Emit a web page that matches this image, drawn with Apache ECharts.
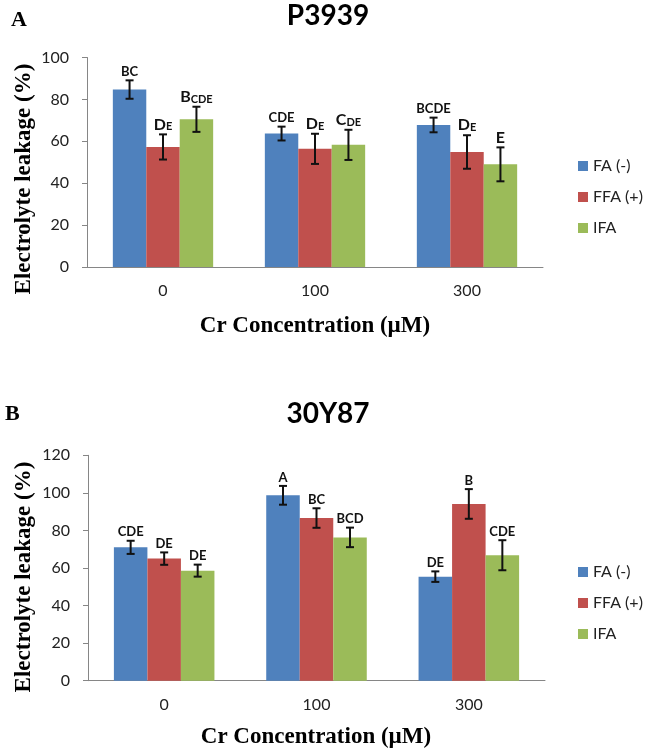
<!DOCTYPE html>
<html lang="en">
<head>
<meta charset="UTF-8">
<title>Electrolyte leakage</title>
<script src="https://cdn.jsdelivr.net/npm/echarts@6/dist/echarts.min.js"></script>
<style>
  html, body, #main { width: 100%; height: 100%; margin: 0; background: #fff; }
</style>
</head>
<body>
<div id="main"></div>
<script>
// categories and series
var categories = ['0', '100', '300'];
var seriesNames = ['FA (-)', 'FFA (+)', 'IFA'];
var colors = ['#4F81BD', '#C0504D', '#9BBB59'];

// A: P3939
var p3939FA = [84.7, 63.7, 67.8];
var p3939FFA = [57.3, 56.4, 54.9];
var p3939IFA = [70.5, 58.3, 49.0];
var p3939FAErr = [4.4, 3.3, 3.5];
var p3939FFAErr = [6.0, 7.2, 8.0];
var p3939IFAErr = [6.0, 7.2, 8.1];
var p3939FALabels = ['BC', 'CDE', 'BCDE'];
var p3939FFALabels = ['{b|D}{s|E}', '{b|D}{s|E}', '{b|D}{s|E}'];
var p3939IFALabels = ['{b|B}{s|CDE}', '{b|C}{s|DE}', '{b|E}'];

// B: 30Y87
var y87FA = [71.0, 98.7, 55.4];
var y87FFA = [65.0, 86.6, 94.1];
var y87IFA = [58.6, 76.3, 66.8];
var y87FAErr = [3.5, 5.0, 2.8];
var y87FFAErr = [3.3, 5.2, 7.9];
var y87IFAErr = [3.2, 5.2, 8.0];
var y87FALabels = ['CDE', 'A', 'DE'];
var y87FFALabels = ['DE', 'BC', 'B'];
var y87IFALabels = ['DE', 'BCD', 'CDE'];

var CAT_GAP = 0.34;
var axisColor = '#868686';
var sans = 'Lato';
var serif = '"Liberation Serif", "Times New Roman", serif';

var chart = echarts.init(document.getElementById('main'));

function barSeries(grid, idx, values) {
  return {
    type: 'bar',
    name: seriesNames[idx],
    xAxisIndex: grid,
    yAxisIndex: grid,
    data: values,
    barGap: '0%',
    barCategoryGap: (CAT_GAP * 100) + '%',
    itemStyle: { color: colors[idx] }
  };
}

// error bars + letters, drawn over the matching bar
function errSeries(grid, idx, values, errs, labels) {
  var data = values.map(function (v, i) { return [i, v, errs[i]]; });
  return {
    type: 'custom',
    xAxisIndex: grid,
    yAxisIndex: grid,
    z: 5,
    silent: true,
    encode: { x: 0, y: 1 },
    data: data,
    renderItem: function (params, api) {
      var c = api.value(0), m = api.value(1), e = api.value(2);
      var center = api.coord([c, m]);
      var catW = api.size([1, 0])[0];
      var groupW = catW * (1 - CAT_GAP);
      var barW = groupW / 3;
      var x = center[0] - groupW / 2 + barW * (idx + 0.5);
      var yTop = api.coord([c, m + e])[1];
      var yBot = api.coord([c, m - e])[1];
      var cap = 4;
      var ls = { stroke: '#111', lineWidth: 2 };
      return {
        type: 'group',
        children: [
          { type: 'line', shape: { x1: x, y1: yTop, x2: x, y2: yBot }, style: ls },
          { type: 'line', shape: { x1: x - cap, y1: yTop, x2: x + cap, y2: yTop }, style: ls },
          { type: 'line', shape: { x1: x - cap, y1: yBot, x2: x + cap, y2: yBot }, style: ls },
          {
            type: 'text', x: x, y: yTop - 2,
            style: {
              text: labels[params.dataIndex],
              font: 'bold 13px ' + sans,
              fill: '#111',
              align: 'center',
              verticalAlign: 'bottom',
              rich: {
                b: { fontSize: 16, fontWeight: 'bold', fontFamily: sans, verticalAlign: 'bottom' },
                s: { fontSize: 11, fontWeight: 'bold', fontFamily: sans, verticalAlign: 'bottom' }
              }
            }
          }
        ]
      };
    }
  };
}

function xAxis(grid) {
  return {
    type: 'category', gridIndex: grid, data: categories,
    axisLine: { lineStyle: { color: axisColor, width: 1 } },
    axisTick: { length: 5, lineStyle: { color: axisColor } },
    axisLabel: { fontFamily: sans, fontSize: 16, color: '#222', margin: 16 }
  };
}

function yAxis(grid, max) {
  return {
    type: 'value', gridIndex: grid, min: 0, max: max, interval: 20,
    axisLine: { show: true, lineStyle: { color: axisColor, width: 1 } },
    axisTick: { show: true, length: 5, lineStyle: { color: axisColor } },
    splitLine: { show: false },
    axisLabel: { fontFamily: sans, fontSize: 16, color: '#222', margin: 18 }
  };
}

function legend(top) {
  return {
    orient: 'vertical', left: 573, top: top,
    icon: 'rect', itemWidth: 10, itemHeight: 10, itemGap: 15,
    data: seriesNames,
    textStyle: { fontFamily: sans, fontSize: 16, color: '#222' }
  };
}

function axisName(text, x, y, vertical) {
  return {
    type: 'text', x: x, y: y, rotation: vertical ? Math.PI / 2 : 0,
    style: { text: text, font: 'bold 23px ' + serif, fill: '#000', align: 'center', verticalAlign: 'middle' }
  };
}

chart.setOption({
  animation: false,
  title: [
    { text: 'P3939', left: 323, textAlign: 'center', top: -3, textStyle: { fontFamily: sans, fontSize: 28, fontWeight: 'bold', color: '#000' } },
    { text: '30Y87', left: 323, textAlign: 'center', top: 395, textStyle: { fontFamily: sans, fontSize: 28, fontWeight: 'bold', color: '#000' } },
    { text: 'A', left: 6, top: 4, textStyle: { fontFamily: serif, fontSize: 22, fontWeight: 'bold', color: '#000' } },
    { text: 'B', left: 0, top: 398, textStyle: { fontFamily: serif, fontSize: 22, fontWeight: 'bold', color: '#000' } }
  ],
  legend: [legend(153), legend(559)],
  grid: [
    { left: 87, top: 57.5, width: 456, height: 209.5 },
    { left: 88, top: 455.3, width: 457, height: 225.4 }
  ],
  xAxis: [xAxis(0), xAxis(1)],
  yAxis: [yAxis(0, 100), yAxis(1, 120)],
  graphic: [
    axisName('Electrolyte leakage (%)', 24, 179, true),
    axisName('Cr Concentration (\u00b5M)', 315, 326, false),
    axisName('Electrolyte leakage (%)', 24, 577, true),
    axisName('Cr Concentration (\u00b5M)', 316, 737, false)
  ],
  series: [
    barSeries(0, 0, p3939FA), barSeries(0, 1, p3939FFA), barSeries(0, 2, p3939IFA),
    barSeries(1, 0, y87FA), barSeries(1, 1, y87FFA), barSeries(1, 2, y87IFA),
    errSeries(0, 0, p3939FA, p3939FAErr, p3939FALabels),
    errSeries(0, 1, p3939FFA, p3939FFAErr, p3939FFALabels),
    errSeries(0, 2, p3939IFA, p3939IFAErr, p3939IFALabels),
    errSeries(1, 0, y87FA, y87FAErr, y87FALabels),
    errSeries(1, 1, y87FFA, y87FFAErr, y87FFALabels),
    errSeries(1, 2, y87IFA, y87IFAErr, y87IFALabels)
  ]
});
window.onresize = chart.resize;
</script>
</body>
</html>
